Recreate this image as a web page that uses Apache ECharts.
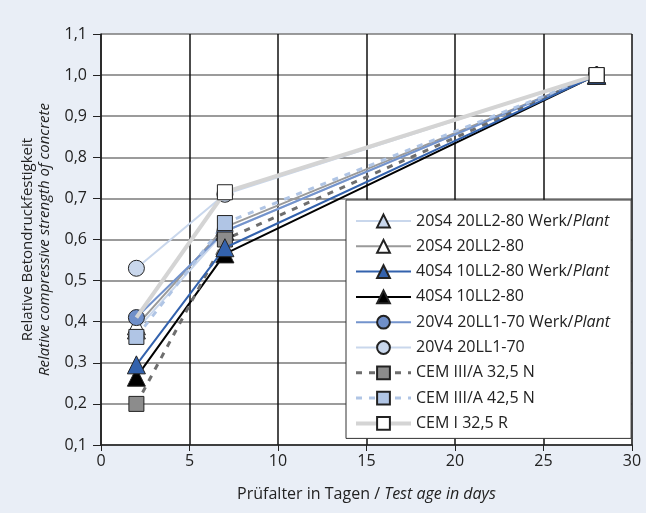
<!DOCTYPE html>
<html>
<head>
<meta charset="utf-8">
<script src="https://cdn.jsdelivr.net/npm/echarts@6/dist/echarts.min.js"></script>
<style>
  html, body { margin: 0; padding: 0; background: #e9eef6; }
  #chart { width: 646px; height: 513px; }
</style>
</head>
<body>
<div id="chart"></div>
<script>
// Test ages in days
const ages = [2, 7, 28];

// Relative compressive strength per mix
const s20S4Werk = [0.38, 0.62, 1.0];
const s20S4 = [0.39, 0.63, 1.0];
const s40S4Werk = [0.295, 0.58, 1.0];
const s40S4 = [0.265, 0.565, 1.0];
const s20V4Werk = [0.41, 0.62, 1.0];
const s20V4 = [0.53, 0.71, 1.0];
const cem3a325 = [0.20, 0.60, 1.0];
const cem3a425 = [0.363, 0.64, 1.0];
const cem1325 = [0.41, 0.715, 1.0];

const seriesNames = [
  '20S4 20LL2-80 Werk/Plant',
  '20S4 20LL2-80',
  '40S4 10LL2-80 Werk/Plant',
  '40S4 10LL2-80',
  '20V4 20LL1-70 Werk/Plant',
  '20V4 20LL1-70',
  'CEM III/A 32,5 N',
  'CEM III/A 42,5 N',
  'CEM I 32,5 R'
];

const FONT = '"Open Sans", "Noto Sans", sans-serif';

function pairs(values) {
  return ages.map((a, i) => [a, values[i]]);
}

function lineSeries(name, values, opt) {
  const data = pairs(values).map((p, i) =>
    (opt.hideFirst && i === 0) ? { value: p, symbol: 'none' } : p);
  return {
    name: name,
    type: 'line',
    data: data,
    symbol: opt.symbol,
    symbolSize: opt.size || 15,
    z: opt.z || 2,
    lineStyle: { color: opt.line, width: opt.width || 2, type: opt.dash || 'solid' },
    itemStyle: { color: opt.fill, borderColor: '#222', borderWidth: 1 }
  };
}

const series = [
  lineSeries(seriesNames[0], s20S4Werk, { symbol: 'triangle', fill: '#c9d7ec', line: '#c9d7ec', size: 18 }),
  lineSeries(seriesNames[1], s20S4, { symbol: 'triangle', fill: '#ffffff', line: '#9a9a9a', size: 18 }),
  lineSeries(seriesNames[2], s40S4Werk, { symbol: 'triangle', fill: '#3362ad', line: '#3362ad', size: 18, z: 3 }),
  lineSeries(seriesNames[3], s40S4, { symbol: 'triangle', fill: '#000000', line: '#000000', size: 18 }),
  lineSeries(seriesNames[4], s20V4Werk, { symbol: 'circle', fill: '#6f8fc9', line: '#7393cc', size: 16 }),
  lineSeries(seriesNames[5], s20V4, { symbol: 'circle', fill: '#c9d7ec', line: '#c9d7ec', size: 16 }),
  lineSeries(seriesNames[6], cem3a325, { symbol: 'rect', fill: '#8c8c8c', line: '#6e6e6e', width: 3, dash: [6, 7], size: 15 }),
  lineSeries(seriesNames[7], cem3a425, { symbol: 'rect', fill: '#b0c5e5', line: '#b0c5e5', width: 3, dash: [6, 7], size: 15 }),
  // the 2-day marker of this mix sits behind the other 2-day marks
  lineSeries(seriesNames[8], cem1325, { symbol: 'rect', fill: '#ffffff', line: '#d4d4d4', width: 4, size: 15, z: 4, hideFirst: true })
];

// Legend line samples use the same widths as the plotted lines
const legendWidths = [2, 2, 2, 2, 2, 2, 3, 3, 4];

const chart = echarts.init(document.getElementById('chart'), null, { renderer: 'canvas' });

chart.setOption({
  animation: false,
  backgroundColor: '#e9eef6',
  textStyle: { fontFamily: FONT },
  grid: { left: 101, right: 14, top: 34, bottom: 68, show: true, backgroundColor: '#ffffff', borderWidth: 0 },
  xAxis: {
    type: 'value',
    min: 0, max: 30, interval: 5,
    name: '{a|Prüfalter in Tagen / }{b|Test age in days}',
    nameLocation: 'middle',
    nameGap: 41,
    nameTextStyle: {
      rich: {
        a: { fontFamily: FONT, fontSize: 16, color: '#222' },
        b: { fontFamily: FONT, fontSize: 16, color: '#222', fontStyle: 'italic' }
      }
    },
    axisLine: { show: true, lineStyle: { color: '#222', width: 1.5 } },
    axisTick: { show: true, length: 6, lineStyle: { color: '#222' } },
    axisLabel: { fontSize: 16, color: '#222', margin: 8, fontFamily: FONT },
    splitLine: { show: true, lineStyle: { color: '#111', width: 1.5 } }
  },
  yAxis: {
    type: 'value',
    min: 0.1, max: 1.1, interval: 0.1,
    name: '{a|Relative Betondruckfestigkeit}\n{b|Relative compressive strength of concrete}',
    nameLocation: 'middle',
    nameGap: 42,
    nameTextStyle: {
      lineHeight: 17,
      rich: {
        a: { fontFamily: FONT, fontSize: 15, color: '#222', lineHeight: 17 },
        b: { fontFamily: FONT, fontSize: 15, color: '#222', fontStyle: 'italic', lineHeight: 17 }
      }
    },
    axisLine: { show: true, lineStyle: { color: '#222', width: 1.5 } },
    axisTick: { show: true, length: 8, lineStyle: { color: '#222' } },
    axisLabel: {
      fontSize: 16, color: '#222', margin: 14, fontFamily: FONT,
      formatter: v => v.toFixed(1).replace('.', ',')
    },
    splitLine: { show: true, lineStyle: { color: '#7a7a7a', width: 1.5 } }
  },
  legend: {
    orient: 'vertical',
    left: 346, top: 200,
    backgroundColor: '#ffffff',
    borderColor: '#333',
    borderWidth: 1,
    padding: [13, 21, 7, 8],
    itemWidth: 55,
    itemHeight: 16,
    itemGap: 9.3,
    data: seriesNames.map((n, i) => ({ name: n, lineStyle: { width: legendWidths[i] } })),
    formatter: name => name.replace('Werk/Plant', 'Werk/{i|Plant}'),
    textStyle: {
      fontFamily: FONT, fontSize: 16, color: '#222',
      rich: { i: { fontFamily: FONT, fontSize: 16, color: '#222', fontStyle: 'italic' } }
    }
  },
  series: series
});
</script>
</body>
</html>
